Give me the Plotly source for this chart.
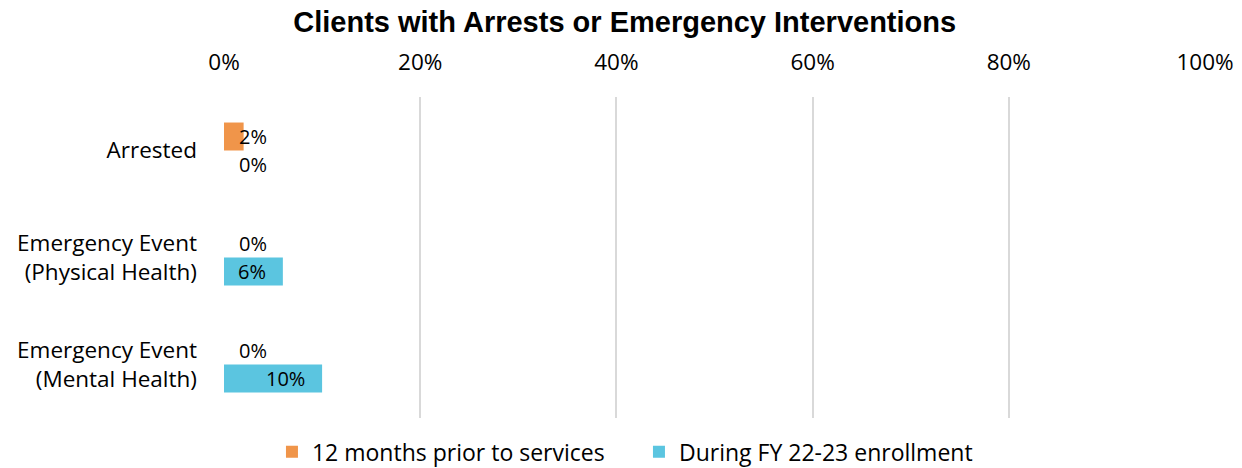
import plotly.graph_objects as go

# Outcome categories (top to bottom)
categories = ["Arrested", "Emergency Event<br>(Physical Health)", "Emergency Event<br>(Mental Health)"]

# Share of clients per period
prior_12_months = [0.02, 0.0, 0.0]
during_fy = [0.0, 0.06, 0.10]

# (legend name, values, colour, vertical label offset in px)
series = [
    ("12 months prior to services", prior_12_months, "#F0954A", 14),
    ("During FY 22-23 enrollment", during_fy, "#5BC5E0", -14),
]

x_ticks = [0, 0.2, 0.4, 0.6, 0.8, 1.0]
x_tick_labels = ["0%", "20%", "40%", "60%", "80%", "100%"]

FONT = "Open Sans"
PLOT_W = 1242 - 224 - 37  # plot width in px

fig = go.Figure()
annotations = []
for name, values, color, yshift in series:
    fig.add_trace(go.Bar(
        y=categories, x=values, name=name, orientation="h",
        marker=dict(color=color, line=dict(width=0)),
    ))
    for cat, v in zip(categories, values):
        label = f"{v * 100:.0f}%"
        if v * PLOT_W > 50:
            # label sits inside the bar, near its end
            annotations.append(dict(x=v, y=cat, xref="x", yref="y", text=label,
                                    showarrow=False, xanchor="right", xshift=-15,
                                    yshift=yshift, font=dict(family=FONT, size=20, color="#000")))
        else:
            annotations.append(dict(x=0, y=cat, xref="x", yref="y", text=label,
                                    showarrow=False, xanchor="left", xshift=13,
                                    yshift=yshift, font=dict(family=FONT, size=20, color="#000")))

fig.update_layout(
    width=1242, height=468,
    margin=dict(l=224, r=37, t=97, b=50, autoexpand=False),
    paper_bgcolor="white", plot_bgcolor="white",
    barmode="group", bargap=0.477, bargroupgap=0,
    title=dict(text="<b>Clients with Arrests or Emergency Interventions</b>",
               x=0.503, xanchor="center", y=0.953, yanchor="middle",
               font=dict(family="Liberation Sans, Arial", size=29, color="#000")),
    xaxis=dict(side="top", range=[0, 1], tickvals=x_ticks, ticktext=x_tick_labels,
               showgrid=True, gridcolor="#D9D9D9", gridwidth=1.5,
               zeroline=False, showline=False, ticks="",
               ticklabelstandoff=22,
               tickfont=dict(family=FONT, size=22.5, color="#000")),
    yaxis=dict(autorange="reversed", showgrid=False, zeroline=False, showline=False,
               ticks="", ticklabelstandoff=26,
               tickfont=dict(family=FONT, size=22.5, color="#000")),
    legend=dict(orientation="h", x=0.423, xanchor="center", y=-0.105, yanchor="middle",
                font=dict(family=FONT, size=23, color="#000"),
                itemwidth=30, entrywidth=322, traceorder="normal"),
    showlegend=True,
    annotations=annotations,
)

fig.write_html("out.html")
